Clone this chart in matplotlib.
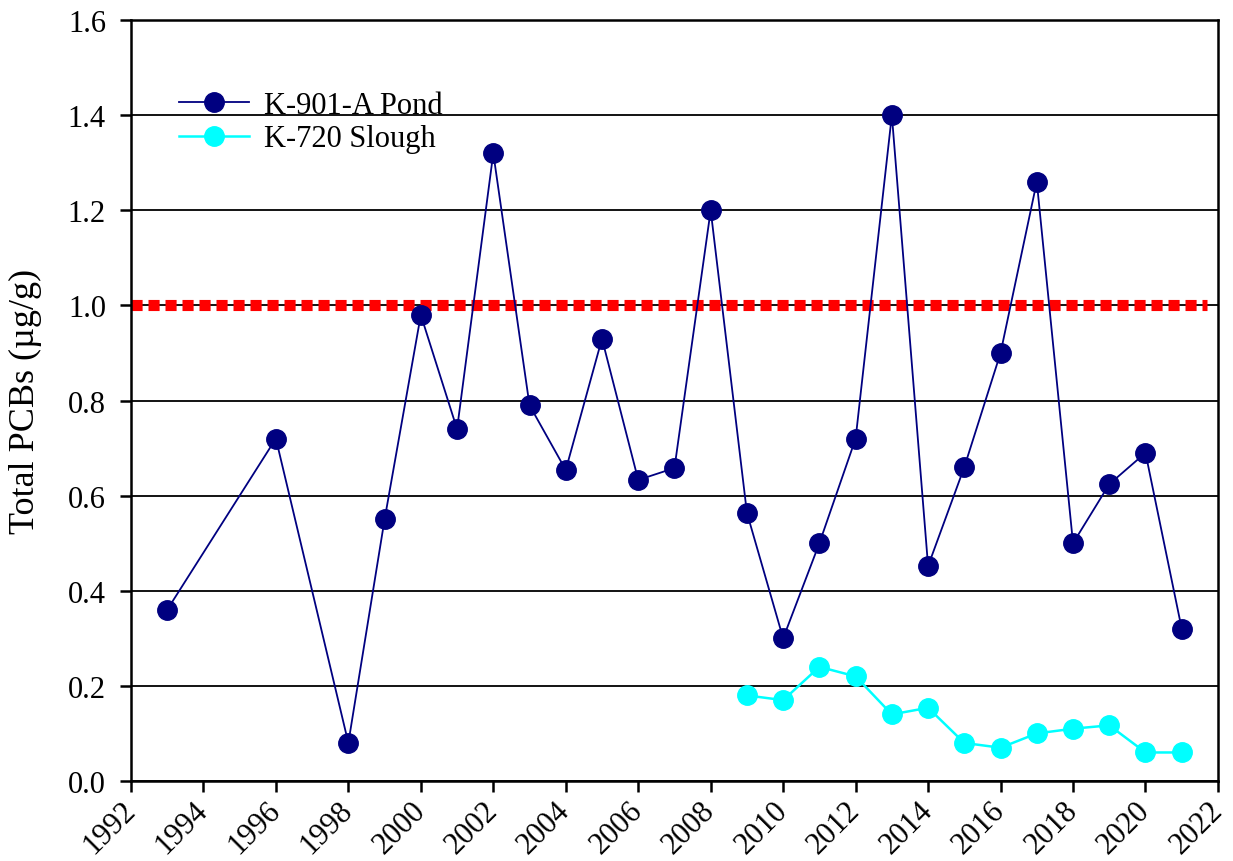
import matplotlib
matplotlib.use("Agg")
import matplotlib.pyplot as plt

pond_years = [1993, 1996, 1998, 1999, 2000, 2001, 2002, 2003, 2004, 2005, 2006, 2007,
              2008, 2009, 2010, 2011, 2012, 2013, 2014, 2015, 2016, 2017, 2018, 2019,
              2020, 2021]
pond_vals = [0.36, 0.72, 0.08, 0.55, 0.98, 0.74, 1.32, 0.79, 0.654, 0.93, 0.633, 0.658,
             1.20, 0.564, 0.30, 0.50, 0.72, 1.40, 0.452, 0.66, 0.90, 1.26, 0.50, 0.624,
             0.69, 0.32]
slough_years = [2009, 2010, 2011, 2012, 2013, 2014, 2015, 2016, 2017, 2018, 2019, 2020, 2021]
slough_vals = [0.18, 0.17, 0.24, 0.22, 0.14, 0.154, 0.08, 0.07, 0.10, 0.11, 0.117, 0.06, 0.06]
limit_x = [1992, 2021.7]
limit_y = [1.0, 1.0]
x_ticks = list(range(1992, 2023, 2))
y_ticks = [0.0, 0.2, 0.4, 0.6, 0.8, 1.0, 1.2, 1.4, 1.6]

plt.rcParams['font.family'] = ['Liberation Serif', 'DejaVu Serif']

fig = plt.figure(figsize=(12.33, 8.62), dpi=100)
ax = fig.add_axes([0.1062, 0.0928, 0.8816, 0.8828])

for yv in y_ticks:
    ax.axhline(yv, color='black', lw=1.3, zorder=1)

ax.plot(limit_x, limit_y, color='red', lw=8.0, linestyle=(0, (1, 0.53)),
        solid_capstyle='butt', dash_capstyle='butt', zorder=2)

ax.plot(pond_years, pond_vals, color='#000080', lw=1.3, marker='o', markersize=14,
        label='K-901-A Pond', zorder=3)
ax.plot(slough_years, slough_vals, color='#00FFFF', lw=1.8, marker='o', markersize=14,
        label='K-720 Slough', zorder=3)

ax.set_xlim(1992, 2022)
ax.set_ylim(0, 1.6)
ax.set_xticks(x_ticks)
ax.set_xticklabels([str(t) for t in x_ticks], rotation=45, ha='right', va='center',
                   rotation_mode='anchor', fontsize=22)
ax.set_yticks(y_ticks)
ax.set_yticklabels([f"{t:.1f}" for t in y_ticks], fontsize=22)
ax.tick_params(axis='both', direction='out', length=8, width=1.8, colors='black')
ax.tick_params(axis='y', pad=10)
ax.tick_params(axis='x', pad=10)
for s in ax.spines.values():
    s.set_linewidth(1.8)
    s.set_color('black')

ax.set_ylabel('Total PCBs (µg/g)', fontsize=26)
ax.yaxis.set_label_coords(-0.082, 0.5)

leg = ax.legend(loc='upper left', bbox_to_anchor=(0.0354, 0.919), frameon=False,
                fontsize=22, handlelength=2.3, handletextpad=0.5, labelspacing=0.15,
                borderpad=0.3, borderaxespad=0.0)

fig.savefig('out.png', dpi=100)
